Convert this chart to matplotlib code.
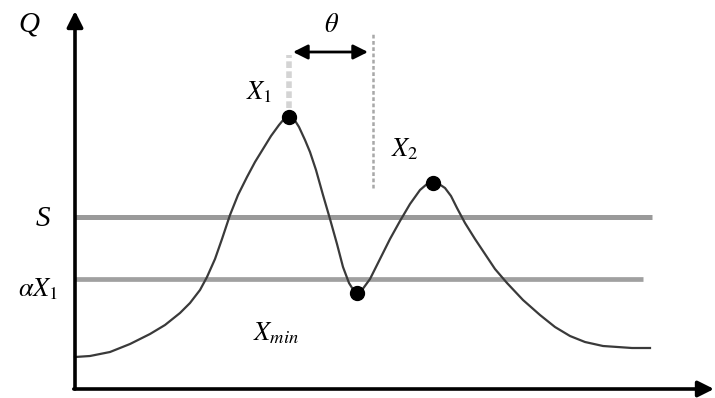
import numpy as np
import matplotlib
matplotlib.use("Agg")
import matplotlib.pyplot as plt

# ---- schematic data (x = time, q = discharge), origin at axis corner ----
curve_x = [0, 15, 35, 55, 75, 90, 105, 115, 125, 132, 140, 147, 155, 163, 172,
           180, 188, 196, 204, 209, 214, 219, 224, 230, 235, 241, 248, 255, 262,
           268, 274, 279, 282, 287, 295, 305, 315, 325, 335, 345, 352, 358, 364,
           370, 376, 382, 390, 400, 410, 420, 432, 448, 465, 480, 495, 510, 528,
           557, 575]
curve_q = [32, 33, 37, 45, 55, 64, 76, 86, 99, 112, 130, 150, 174, 194, 212,
           227, 240, 253, 264, 270, 272, 270, 262, 249, 237, 219, 194, 170, 145,
           122, 106, 98, 96, 99, 110, 130, 150, 168, 185, 199, 205, 206, 205,
           201, 193, 181, 166, 150, 135, 120, 106, 89, 74, 62, 53, 47, 43,
           41, 41]

peak_x = [214, 282, 358]          # X1, Xmin, X2
peak_q = [272, 96, 206]

S_level = 172
alpha_level = 110
S_end = 577
alpha_end = 568

theta_x0, theta_x1 = 218, 293    # separation theta between the two dotted lines
theta_q = 337

serif = ["Liberation Serif", "DejaVu Serif"]

fig = plt.figure(figsize=(7.15, 3.98), dpi=100)
ax = fig.add_axes([0, 0, 1, 1])
ax.set_xlim(-75, 640)
ax.set_ylim(-9, 389)
ax.axis("off")

# thresholds
ax.plot([0, S_end], [S_level, S_level], color="#9a9a9a", lw=3.6, solid_capstyle="butt", zorder=1)
ax.plot([0, alpha_end], [alpha_level, alpha_level], color="#a0a0a0", lw=3.4, solid_capstyle="butt", zorder=1)

# hydrograph
ax.plot(curve_x, curve_q, color="#3a3a3a", lw=1.6, zorder=3)
ax.plot(peak_x, peak_q, "o", color="black", ms=10, zorder=4)

# dotted guides
ax.plot([peak_x[0], peak_x[0]], [281, 334], color="#d4d4d4", lw=4, ls=(0, (1.2, 0.6)), zorder=2)
ax.plot([theta_x1 + 5, theta_x1 + 5], [201, 356], color="#a8a8a8", lw=1.8, ls=(0, (1.5, 1)), zorder=2)

# theta double arrow
ax.annotate("", xy=(theta_x0, theta_q), xytext=(theta_x1, theta_q),
            arrowprops=dict(arrowstyle="<|-|>", color="black", lw=2,
                            mutation_scale=22, shrinkA=0, shrinkB=0))

# axes with arrows
ax.annotate("", xy=(0, 378), xytext=(0, 0),
            arrowprops=dict(arrowstyle="-|>", color="black", lw=2.6,
                            mutation_scale=24, shrinkA=0, shrinkB=0))
ax.annotate("", xy=(639, 0), xytext=(-1.2, 0),
            arrowprops=dict(arrowstyle="-|>", color="black", lw=2.6,
                            mutation_scale=24, shrinkA=0, shrinkB=0))

# labels
kw = dict(fontfamily=serif, fontstyle="italic", fontsize=21, ha="center", va="center")
mk = dict(fontsize=19, ha="center", va="center", math_fontfamily="stix")
ax.text(-46, 364, "Q", **kw)
ax.text(257, 364, r"$\theta$", **mk)
ax.text(-32, 170, "S", **kw)
ax.text(-37, 100, r"$\alpha X_1$", **mk)
ax.text(184, 297, r"$X_1$", **mk)
ax.text(330, 240, r"$X_2$", **mk)
ax.text(201, 56, r"$X_{min}$", **mk)

fig.savefig("out.png", dpi=100)
